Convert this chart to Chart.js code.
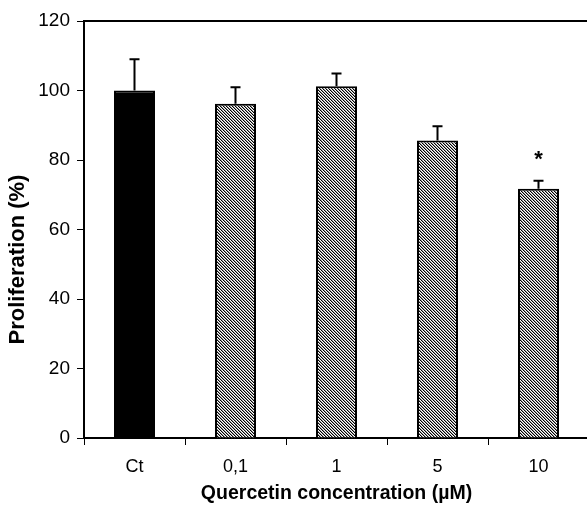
<!DOCTYPE html>
<html><head><meta charset="utf-8">
<script src="https://cdn.jsdelivr.net/npm/chart.js@4/dist/chart.umd.min.js"></script>
<style>html,body{margin:0;padding:0;background:#fff;overflow:hidden;width:587px;height:508px}</style>
</head><body>
<canvas id="c" width="600" height="508" style="width:600px;height:508px;display:block"></canvas>
<script>
const categories = ["Ct", "0,1", "1", "5", "10"];
const proliferation = [100, 96.2, 101.2, 85.6, 71.7];
const errorUp = [9, 4.7, 3.7, 4.1, 2.3];
const significance = ["", "", "", "", "*"];
const yTicks = [0, 20, 40, 60, 80, 100, 120];
const yTitle = "Proliferation (%)";
const xTitle = "Quercetin concentration (µM)";

function hatch() {
  const c = document.createElement('canvas');
  c.width = 3; c.height = 3;
  const g = c.getContext('2d');
  g.fillStyle = '#fff'; g.fillRect(0, 0, 3, 3);
  for (let i = 0; i < 3; i++) {
    g.fillStyle = '#000'; g.fillRect(i, i, 1, 1);
    g.fillStyle = '#9a9a9a'; g.fillRect((i + 1) % 3, i, 1, 1);
  }
  return g.createPattern(c, 'repeat');
}
const pat = hatch();
const FONT = '"Liberation Sans", Arial, sans-serif';

const errPlugin = {
  id: 'err',
  afterDatasetsDraw(chart) {
    const ctx = chart.ctx, ys = chart.scales.y;
    const meta = chart.getDatasetMeta(0);
    ctx.save();
    ctx.strokeStyle = '#000'; ctx.lineWidth = 2;
    meta.data.forEach((bar, i) => {
      const top = ys.getPixelForValue(proliferation[i] + errorUp[i]);
      ctx.beginPath();
      ctx.moveTo(bar.x, bar.y); ctx.lineTo(bar.x, top);
      ctx.moveTo(bar.x - 5, top); ctx.lineTo(bar.x + 5, top);
      ctx.stroke();
      if (significance[i]) {
        ctx.fillStyle = '#000';
        ctx.font = 'bold 22px ' + FONT;
        ctx.textAlign = 'center'; ctx.textBaseline = 'middle';
        ctx.fillText(significance[i], bar.x, top - 21);
      }
    });
    const a = chart.chartArea;
    ctx.beginPath();
    ctx.moveTo(a.left, a.top); ctx.lineTo(a.right, a.top);
    ctx.stroke();
    // y axis title (placed slightly below plot centre as in the original)
    ctx.save();
    ctx.translate(18, (a.top + a.bottom) / 2 + 30);
    ctx.rotate(-Math.PI / 2);
    ctx.fillStyle = '#000';
    ctx.font = 'bold 22px ' + FONT;
    ctx.textAlign = 'center'; ctx.textBaseline = 'middle';
    ctx.fillText(yTitle, 0, 0);
    ctx.restore();
    ctx.restore();
  }
};

new Chart(document.getElementById('c'), {
  type: 'bar',
  data: {
    labels: categories,
    datasets: [{
      data: proliferation,
      backgroundColor: proliferation.map((v, i) => i === 0 ? '#000' : pat),
      borderColor: '#000',
      borderWidth: 2,
      borderSkipped: 'bottom',
      categoryPercentage: 1,
      barPercentage: 0.406
    }]
  },
  options: {
    responsive: false,
    animation: false,
    devicePixelRatio: 1,
    layout: { padding: { top: 21, right: 11, left: 0, bottom: 0 } },
    plugins: { legend: { display: false }, tooltip: { enabled: false } },
    scales: {
      x: {
        offset: true,
        grid: { offset: true, drawOnChartArea: false, tickLength: 7, color: '#000', lineWidth: 1 },
        border: { color: '#000', width: 2 },
        ticks: { color: '#000', padding: 11, font: { family: FONT, size: 18 } },
        title: { display: true, text: xTitle, color: '#000', padding: 0,
          font: { family: FONT, size: 19.5, weight: 'bold', lineHeight: '28px' } },
        afterFit(s) { s.height = 70; }
      },
      y: {
        min: 0, max: 120,
        afterBuildTicks(s) { s.ticks = yTicks.map(v => ({ value: v })); },
        grid: { drawOnChartArea: false, tickLength: 7, color: '#000', lineWidth: 1 },
        border: { color: '#000', width: 2 },
        ticks: { color: '#000', padding: 7, font: { family: FONT, size: 19 } },
        title: { display: false },
        afterFit(s) { s.width = 84; }
      }
    }
  },
  plugins: [errPlugin]
});
</script>
</body></html>
